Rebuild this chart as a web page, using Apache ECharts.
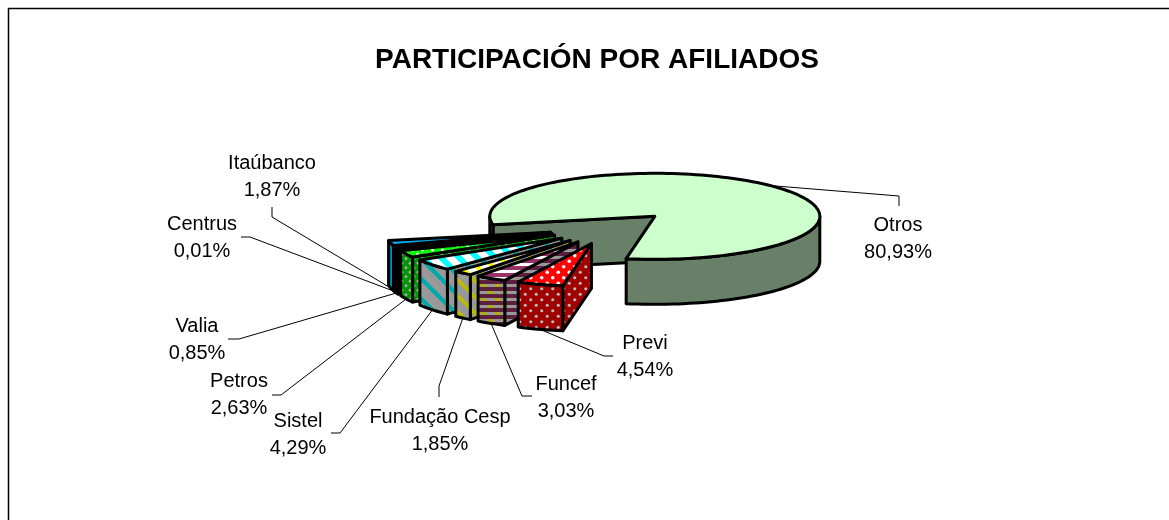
<!DOCTYPE html>
<html>
<head>
<meta charset="utf-8">
<title>Participación por afiliados</title>
<style>
  html, body { margin: 0; background: #fff; }
  #chart { width: 1169px; height: 520px; }
</style>
<script src="https://cdn.jsdelivr.net/npm/echarts@6/dist/echarts.min.js"></script>
</head>
<body>
<div id="chart"></div>
<script>
const TITLE = 'PARTICIPACIÓN POR AFILIADOS'

// clockwise from the start angle, as in the source sheet
const afiliados = ['Otros', 'Previ', 'Funcef', 'Fundação Cesp', 'Sistel', 'Petros', 'Valia', 'Centrus', 'Itaúbanco']
const participacion = [80.93, 4.54, 3.03, 1.85, 4.29, 2.63, 0.85, 0.01, 1.87]

// pie geometry
const CX = 611
const CY = 228
const RX = 165
const RY = 43
const DEPTH = 45
const EXPLODE = 0.38
const START_ANGLE = 78.65 // degrees, measured from straight down, clockwise
const FONT = '"Liberation Sans", Arial, sans-serif'

// label centre, then the elbow of its leader line, by slice
const labelLayout = [
  { at: [898, 239], elbow: [[899, 196], [899, 206]] },
  { at: [645, 357], elbow: [[604, 356], [613, 356]] },
  { at: [566, 398], elbow: [[522, 396], [532, 396]] },
  { at: [440, 431], elbow: [[439, 386], [439, 397]] },
  { at: [298, 435], elbow: [[340, 433], [331, 433]] },
  { at: [239, 395], elbow: [[281, 395], [272, 395]] },
  { at: [197, 340], elbow: [[239, 339], [228, 339]] },
  { at: [202, 238], elbow: [[250, 237], [241, 237]] },
  { at: [272, 177], elbow: [[272, 217], [272, 207]] }
]

function tile(w, h, draw) {
  const c = document.createElement('canvas')
  c.width = w
  c.height = h
  draw(c.getContext('2d'))
  return { image: c, repeat: 'repeat' }
}

function dots(bg, fg, w, h, r) {
  return tile(w, h, ctx => {
    ctx.fillStyle = bg
    ctx.fillRect(0, 0, w, h)
    ctx.fillStyle = fg
    ;[[w / 4, h / 4], [w * 3 / 4, h * 3 / 4]].forEach(p => {
      ctx.beginPath()
      ctx.arc(p[0], p[1], r, 0, Math.PI * 2)
      ctx.fill()
    })
  })
}

function hatch(bg, fg, period, band) {
  return tile(period, period, ctx => {
    ctx.fillStyle = bg
    ctx.fillRect(0, 0, period, period)
    ctx.fillStyle = fg
    for (let y = 0; y < period; y++) {
      for (let x = 0; x < period; x++) {
        if ((x - y + period) % period < band) ctx.fillRect(x, y, 1, 1)
      }
    }
  })
}

function rows(bg, fg, period, extra) {
  return tile(period * 2, period * 2, ctx => {
    ctx.fillStyle = bg
    ctx.fillRect(0, 0, period * 2, period * 2)
    if (extra) {
      ctx.fillStyle = extra
      for (let y = 0; y < period * 2; y++) {
        for (let x = 0; x < period * 2; x++) {
          if ((x - y + period * 2) % (period * 2) < 5) ctx.fillRect(x, y, 1, 1)
        }
      }
    }
    ctx.fillStyle = fg
    for (let y = 0; y < period * 2; y += period) ctx.fillRect(0, y, period * 2, Math.ceil(period / 2))
  })
}

// top face, outer wall, cut wall
const sliceFills = [
  { top: '#CCFFCC', outer: '#688068', cut: '#688068' },
  { top: dots('#FF0000', '#FFFFFF', 11, 11, 1.8), outer: dots('#A00000', '#BBBBBB', 11, 11, 1.6), cut: dots('#A00000', '#BBBBBB', 11, 11, 1.6) },
  { top: rows('#FFFFFF', '#993366', 7), outer: rows('#999999', '#5C1F3D', 7, '#B8B000'), cut: rows('#999999', '#5C1F3D', 7) },
  { top: hatch('#FFFFFF', '#FFFF00', 16, 6), outer: hatch('#999999', '#BBBB00', 16, 5), cut: hatch('#999999', '#BBBB00', 16, 5) },
  { top: hatch('#FFFFFF', '#00FFFF', 18, 8), outer: hatch('#999999', '#00AAAA', 20, 6), cut: hatch('#999999', '#00AAAA', 20, 6) },
  { top: dots('#00FF00', '#FFFFFF', 10, 8, 1.5), outer: dots('#009900', '#AAAAAA', 8, 9, 1.4), cut: dots('#009900', '#AAAAAA', 8, 9, 1.4) },
  { top: '#000000', outer: '#000000', cut: '#000000' },
  { top: '#000000', outer: '#000000', cut: '#000000' },
  { top: '#00AEEF', outer: '#0088BB', cut: '#0088BB' }
]

const total = participacion.reduce((a, b) => a + b, 0)
const rad = d => d * Math.PI / 180

// angular span of every slice
const spans = []
participacion.reduce((acc, v) => {
  const end = acc + echarts.number.linearMap(v, [0, total], [0, 360])
  spans.push([acc, end])
  return end
}, START_ANGLE)

function rim(apex, deg, drop) {
  return [apex[0] - Math.sin(rad(deg)) * RX, apex[1] + Math.cos(rad(deg)) * RY + (drop || 0)]
}

function arcPoints(apex, a, b, drop) {
  const pts = []
  const n = Math.max(2, Math.ceil((b - a) / 2))
  for (let i = 0; i <= n; i++) pts.push(rim(apex, a + (b - a) * i / n, drop))
  return pts
}

// parts of the rim that face the viewer
function frontRuns(a, b) {
  const runs = []
  for (let k = -1; k <= 2; k++) {
    const s = Math.max(a, -90 + 360 * k)
    const e = Math.min(b, 90 + 360 * k)
    if (s < e) runs.push([s, e])
  }
  return runs
}

function face(points, fill, z2) {
  return {
    type: 'polygon',
    z2,
    shape: { points },
    style: { fill, stroke: '#000', lineWidth: 3, lineJoin: 'round' }
  }
}

function cutWall(apex, deg, fill, z2) {
  const p = rim(apex, deg)
  const q = rim(apex, deg, DEPTH)
  return face([apex, p, q, [apex[0], apex[1] + DEPTH]], fill, z2)
}

function renderSlice(params, api) {
  const i = params.dataIndex
  const [a, b] = spans[i]
  const mid = (a + b) / 2
  const apex = [
    CX - Math.sin(rad(mid)) * RX * EXPLODE,
    CY + Math.cos(rad(mid)) * RY * EXPLODE
  ]
  const fills = sliceFills[i]
  const base = i === 0 ? 0 : (20 - i) * 10
  const children = []

  if (Math.sin(rad(a)) > 0) children.push(cutWall(apex, a, fills.cut, base))
  if (Math.sin(rad(b)) < 0) children.push(cutWall(apex, b, fills.cut, base))
  frontRuns(a, b).forEach(r => {
    const top = arcPoints(apex, r[0], r[1])
    const bottom = arcPoints(apex, r[0], r[1], DEPTH).reverse()
    children.push(face(top.concat(bottom), fills.outer, base + 1))
  })
  children.push(face([apex].concat(arcPoints(apex, a, b)), fills.top, base + 2))

  // leader line starts on the rim at the middle of the slice
  const front = Math.cos(rad(mid)) > 0
  const anchor = rim(apex, mid, front ? DEPTH : 0)
  const layout = labelLayout[i]
  children.push({
    type: 'polyline',
    z2: i === 0 ? 1 : -1,
    shape: { points: [anchor].concat(layout.elbow) },
    style: { fill: null, stroke: '#000', lineWidth: 1 }
  })
  children.push({
    type: 'text',
    z2: 300,
    x: layout.at[0],
    y: layout.at[1],
    style: {
      text: afiliados[i] + '\n' + api.value(0).toFixed(2).replace('.', ',') + '%',
      fill: '#000',
      font: '20px ' + FONT,
      lineHeight: 27,
      align: 'center',
      verticalAlign: 'middle'
    }
  })
  return { type: 'group', children }
}

const chart = echarts.init(document.getElementById('chart'), null, { renderer: 'canvas' })
chart.setOption({
  animation: false,
  backgroundColor: '#fff',
  title: {
    text: TITLE,
    left: 592,
    top: 41,
    textAlign: 'center',
    textStyle: { color: '#000', fontFamily: FONT, fontSize: 28, fontWeight: 'bold' }
  },
  graphic: [
    {
      type: 'rect',
      silent: true,
      shape: { x: 8.5, y: 8.5, width: 1400, height: 800 },
      style: { fill: null, stroke: '#000', lineWidth: 1.5 }
    }
  ],
  series: [
    {
      type: 'custom',
      coordinateSystem: 'none',
      silent: true,
      renderItem: renderSlice,
      data: participacion.map((v, i) => ({ name: afiliados[i], value: [v] }))
    }
  ]
})
</script>
</body>
</html>
